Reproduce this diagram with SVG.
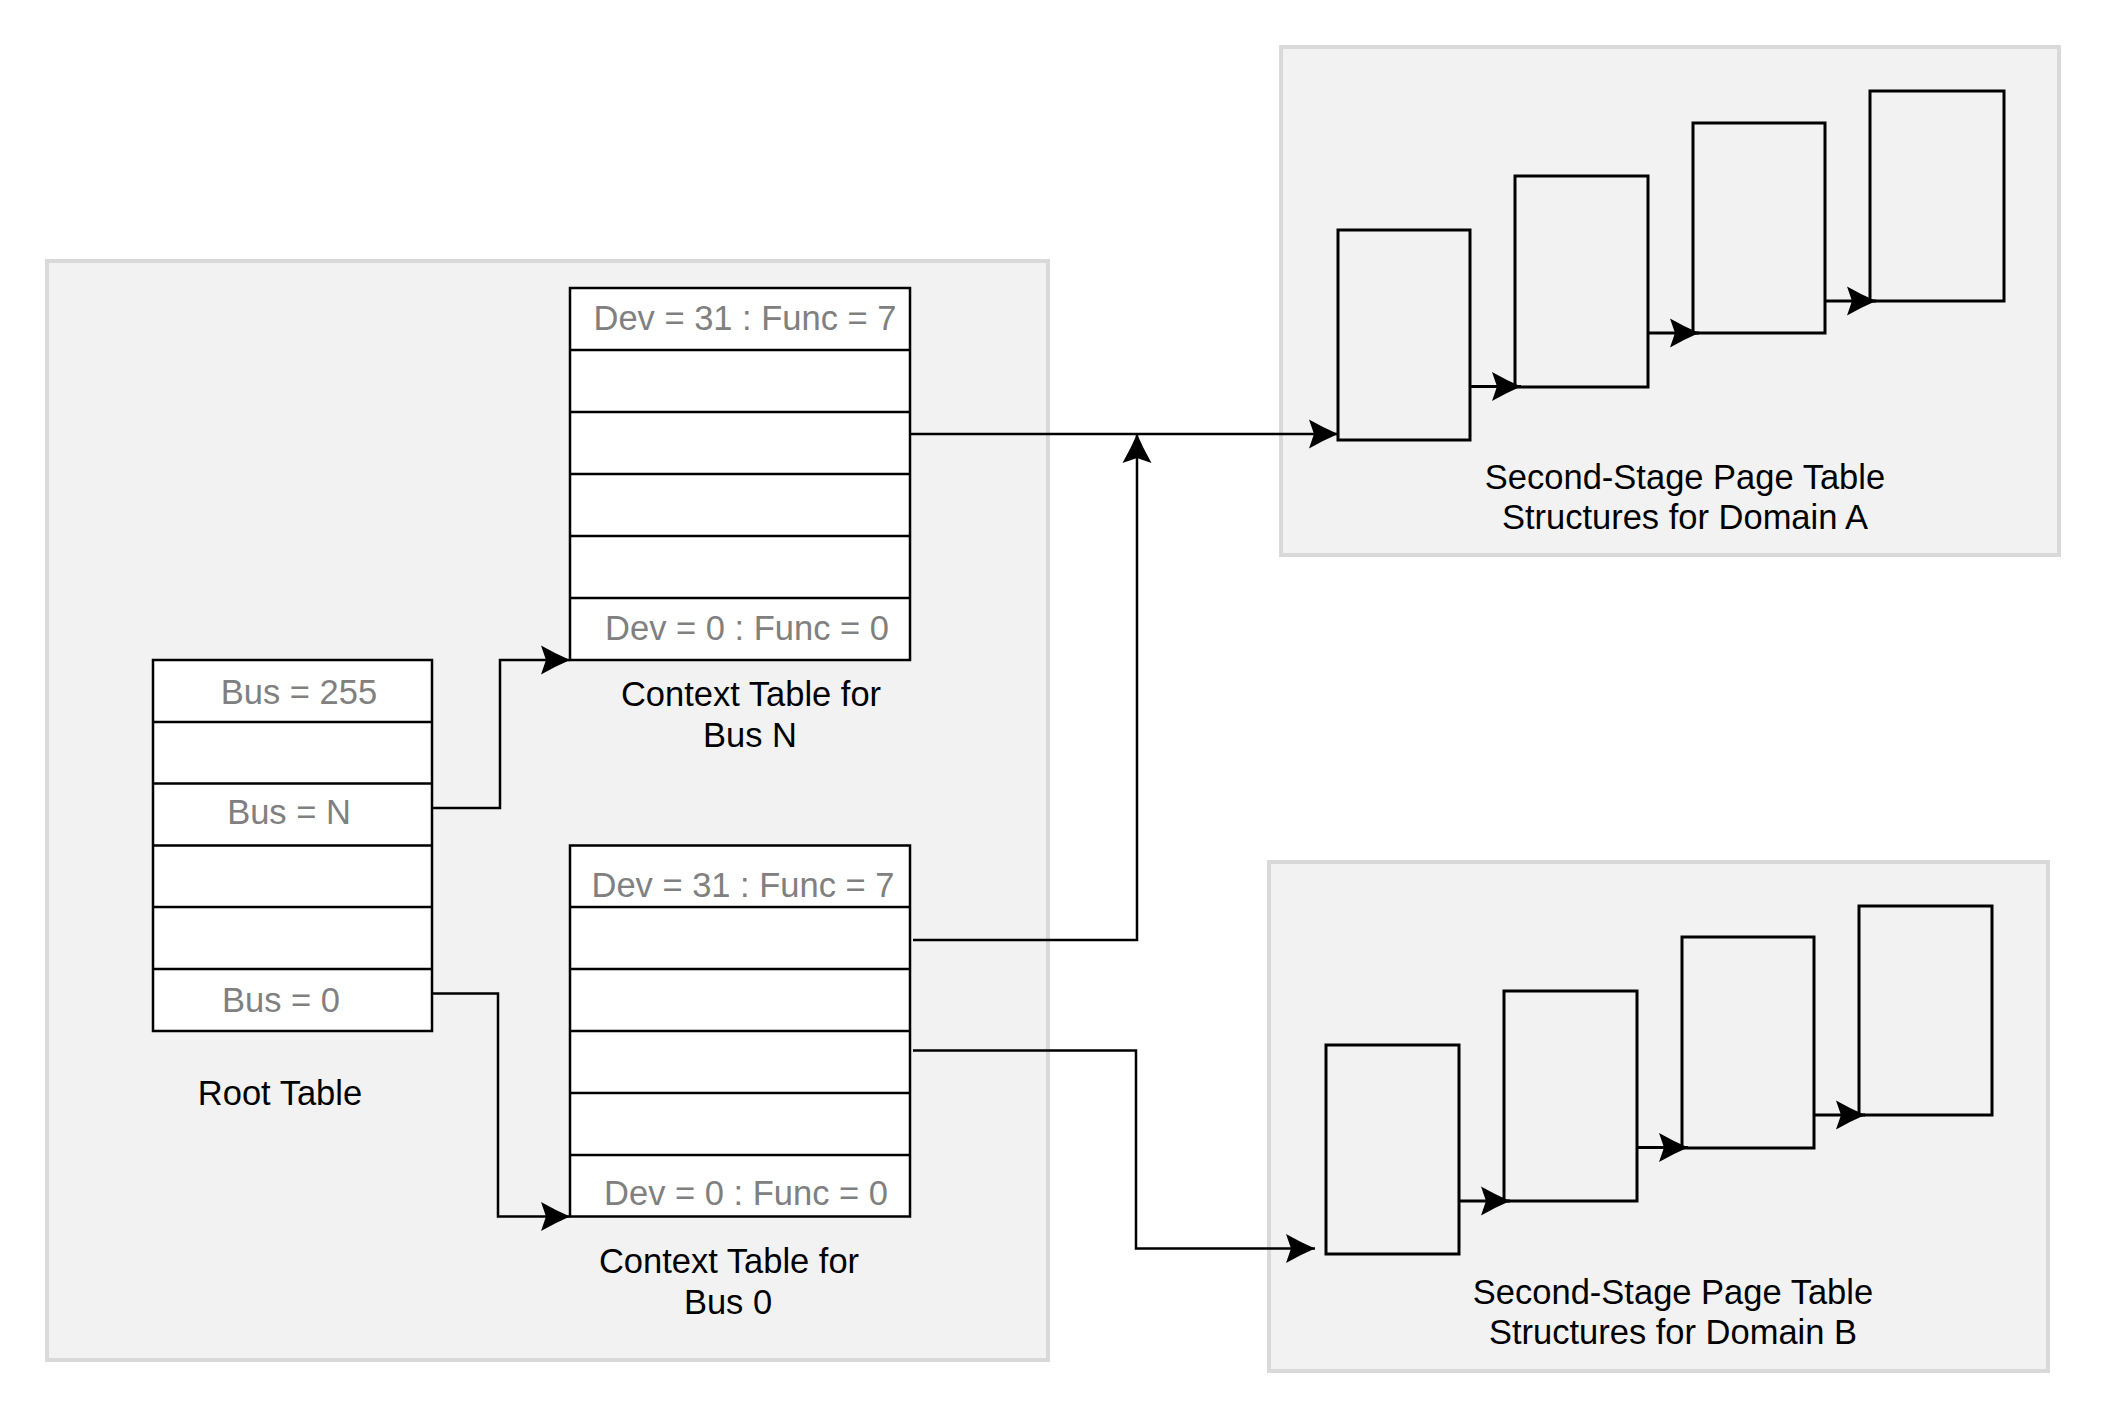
<svg xmlns="http://www.w3.org/2000/svg" width="2105" height="1405" viewBox="0 0 2105 1405">
<style>
.panel{fill:#f2f2f2;stroke:#d9d9d9;stroke-width:4}
.tbl{fill:#ffffff;stroke:#000;stroke-width:2.5}
.div{stroke:#000;stroke-width:2.5;fill:none}
.pg{fill:none;stroke:#000;stroke-width:3}
.conn{fill:none;stroke:#000;stroke-width:2.5}
.chain{fill:none;stroke:#000;stroke-width:3.2}
text{font-family:"Liberation Sans",Arial,sans-serif;font-size:34.5px;text-anchor:middle}
.g{fill:#808080}
.k{fill:#000}
</style>
<defs>
<marker id="ah" markerUnits="userSpaceOnUse" viewBox="0 -15 30 30" refX="29" refY="0" markerWidth="30" markerHeight="30" orient="auto">
<path d="M0,-14.5 Q15,-6 29,0 Q15,6 0,14.5 L5,0 Z" fill="#000"/>
</marker>
</defs>
<rect width="2105" height="1405" fill="#fff"/>
<g id="panel-main"><rect class="panel" x="47" y="261" width="1001" height="1099"/></g>
<g id="panel-domain-a"><rect class="panel" x="1281" y="47" width="778" height="508"/></g>
<g id="panel-domain-b"><rect class="panel" x="1269" y="862" width="779" height="509"/></g>

<g id="root-table">
<rect class="tbl" x="153" y="660" width="279" height="371"/>
<path class="div" d="M153,722H432M153,783.5H432M153,845.5H432M153,907H432M153,969H432"/>
<text class="g" x="299" y="704">Bus = 255</text>
<text class="g" x="289" y="824">Bus = N</text>
<text class="g" x="281" y="1012">Bus = 0</text>
<text class="k" x="280" y="1105">Root Table</text>
</g>

<g id="context-bus-n">
<rect class="tbl" x="570" y="288" width="340" height="372"/>
<path class="div" d="M570,350H910M570,412H910M570,474H910M570,536H910M570,598H910"/>
<text class="g" x="745" y="330">Dev = 31 : Func = 7</text>
<text class="g" x="747" y="640">Dev = 0 : Func = 0</text>
<text class="k" x="751" y="706">Context Table for</text>
<text class="k" x="750" y="747">Bus N</text>
</g>

<g id="context-bus-0">
<rect class="tbl" x="570" y="845.5" width="340" height="371"/>
<path class="div" d="M570,907H910M570,969H910M570,1031H910M570,1093H910M570,1155H910"/>
<text class="g" x="743" y="897">Dev = 31 : Func = 7</text>
<text class="g" x="746" y="1205">Dev = 0 : Func = 0</text>
<text class="k" x="729" y="1273">Context Table for</text>
<text class="k" x="728" y="1314">Bus 0</text>
</g>

<g id="domain-a">
<rect class="pg" x="1338" y="230" width="132" height="210"/>
<rect class="pg" x="1515" y="176" width="133" height="211"/>
<rect class="pg" x="1693" y="123" width="132" height="210"/>
<rect class="pg" x="1870" y="91" width="134" height="210"/>
<text class="k" x="1685" y="489">Second-Stage Page Table</text>
<text class="k" x="1685" y="529">Structures for Domain A</text>
</g>

<g id="domain-b">
<rect class="pg" x="1326" y="1045" width="133" height="209"/>
<rect class="pg" x="1504" y="991" width="133" height="210"/>
<rect class="pg" x="1682" y="937" width="132" height="211"/>
<rect class="pg" x="1859" y="906" width="133" height="209"/>
<text class="k" x="1673" y="1304">Second-Stage Page Table</text>
<text class="k" x="1673" y="1344">Structures for Domain B</text>
</g>

<g id="connectors">
<path class="conn" d="M432,808 H500 V660 H570" marker-end="url(#ah)"/>
<path class="conn" d="M432,993.5 H498 V1216.5 H570" marker-end="url(#ah)"/>
<path class="conn" d="M910,434 H1338" marker-end="url(#ah)"/>
<path class="conn" d="M913,940 H1137 V434" marker-end="url(#ah)"/>
<path class="conn" d="M913,1050.5 H1136 V1248.5 H1315" marker-end="url(#ah)"/>
<path class="chain" d="M1470,386.5 H1521" marker-end="url(#ah)"/>
<path class="chain" d="M1648,333 H1699" marker-end="url(#ah)"/>
<path class="chain" d="M1825,301 H1876" marker-end="url(#ah)"/>
<path class="chain" d="M1459,1201 H1510" marker-end="url(#ah)"/>
<path class="chain" d="M1637,1147.5 H1688" marker-end="url(#ah)"/>
<path class="chain" d="M1814,1115 H1865" marker-end="url(#ah)"/>
</g>
</svg>
